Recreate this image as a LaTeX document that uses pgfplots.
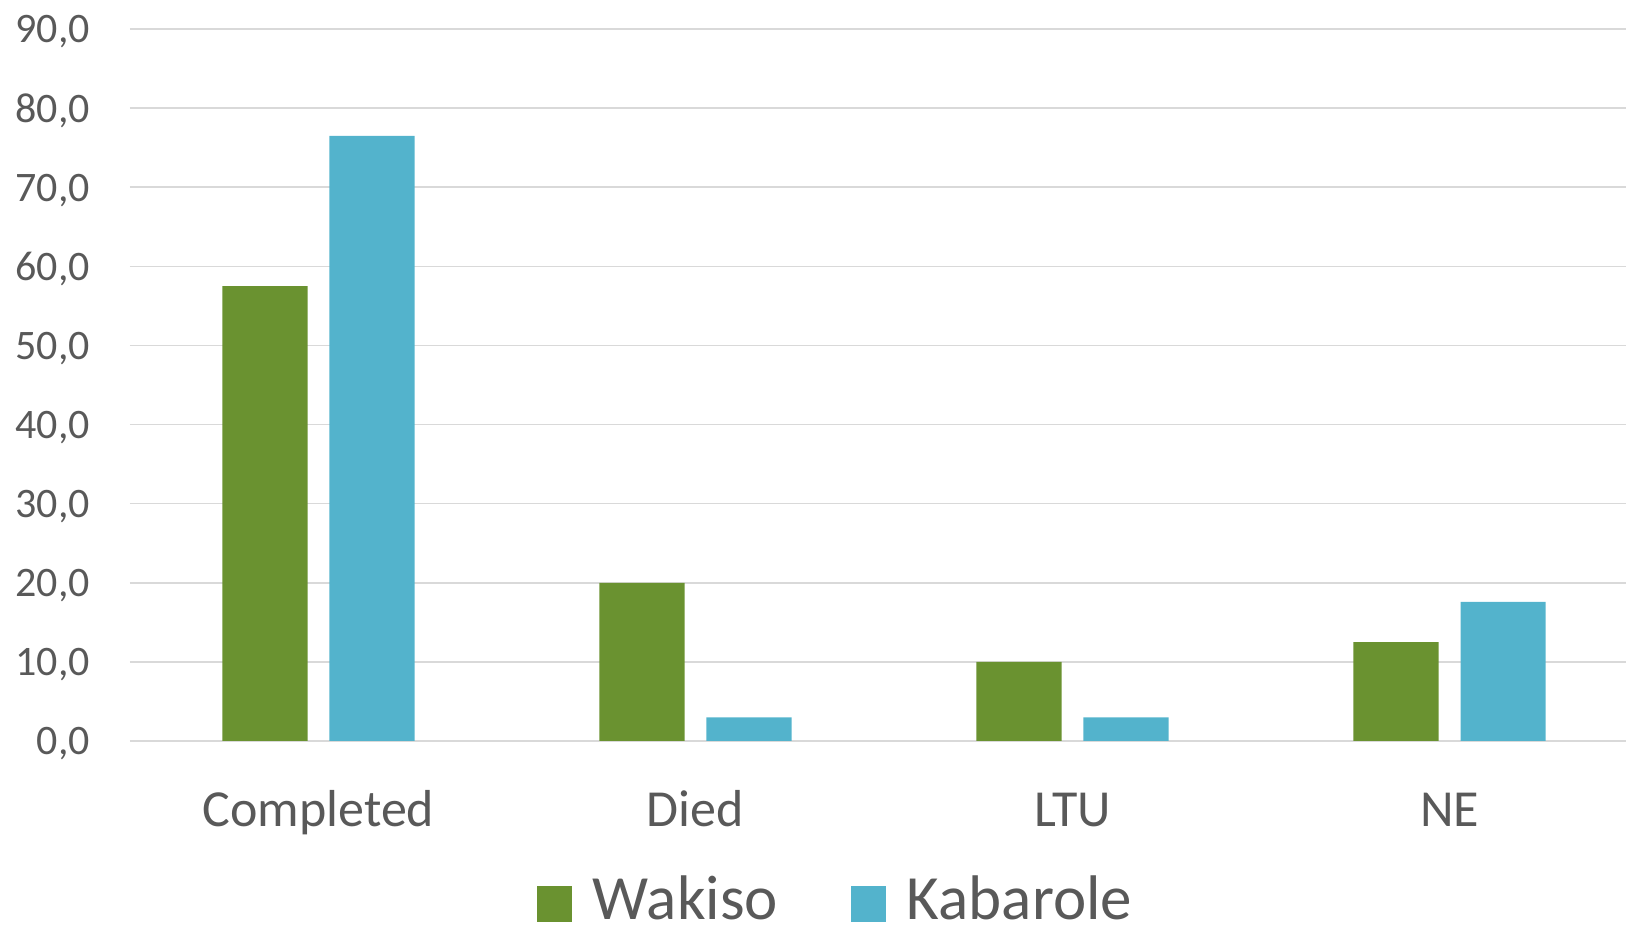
\documentclass[border=0pt]{standalone}
\usepackage{fontspec}
\setmainfont{Carlito}
\usepackage{pgfplots}
\pgfplotsset{compat=1.18}

\definecolor{wakiso}{RGB}{106,146,48}
\definecolor{kabarole}{RGB}{83,179,204}
\definecolor{gridgray}{RGB}{217,217,217}
\definecolor{textgray}{RGB}{89,89,89}

\begin{document}
\begin{tikzpicture}
\begin{axis}[
name=ax,
width=1496pt,
height=712pt,
scale only axis,
xmin=-0.5, xmax=3.468,
ymin=0, ymax=90,
ytick={0,10,...,90},
xtick={0,1,2,3},
xticklabels={Completed,Died,LTU,NE},
axis line style={draw=none},
major tick length=0pt,
ymajorgrids,
y grid style={gridgray, line width=1.5pt},
/pgf/number format/.cd, fixed, fixed zerofill, precision=1, use comma, assume math mode=true,
/pgfplots/.cd,
yticklabel style={anchor=base east, inner sep=0pt, xshift=-40pt, yshift=-14pt,
  font=\fontsize{42}{50}\selectfont, text=textgray},
xticklabel style={anchor=base, inner sep=0pt, yshift=-85pt,
  font=\fontsize{52}{62}\selectfont, text=textgray},
legend columns=2,
legend style={
  at={(axis description cs:0.272,-0.222)},
  anchor=west,
  draw=none, fill=none,
  inner sep=0pt, outer sep=0pt,
  nodes={inner sep=0pt},
  font=\fontsize{63}{75}\selectfont,
  text=textgray,
  /tikz/every odd column/.append style={column sep=21pt},
  /tikz/every even column/.append style={column sep=73pt},
},
]

\addplot [ybar, bar width=0.226, bar shift=-0.142, fill=wakiso, draw=none,
  legend image code/.code={\fill[wakiso] (0pt,-23pt) rectangle (35pt,13pt);}]
coordinates {(0,57.5) (1,20.0) (2,10.0) (3,12.5)};
\addlegendentry{Wakiso}

\addplot [ybar, bar width=0.226, bar shift=0.142, fill=kabarole, draw=none,
  legend image code/.code={\fill[kabarole] (0pt,-23pt) rectangle (35pt,13pt);}]
coordinates {(0,76.5) (1,3.0) (2,3.0) (3,17.6)};
\addlegendentry{Kabarole}

\end{axis}
\pgfresetboundingbox
\path[use as bounding box] ([xshift=-130pt,yshift=-186pt]ax.south west) rectangle ([yshift=29pt]ax.north east);
\end{tikzpicture}
\end{document}
